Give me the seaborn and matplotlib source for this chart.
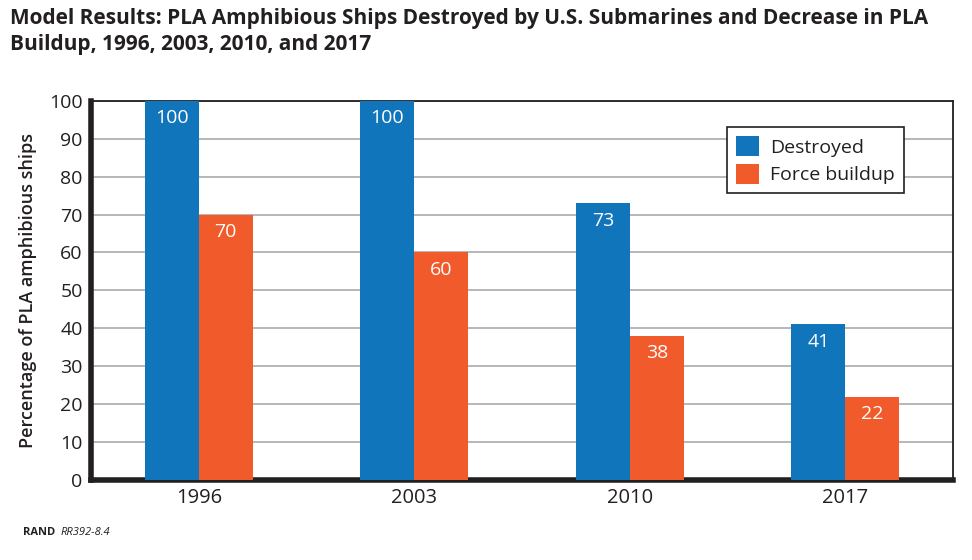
import matplotlib
matplotlib.use("Agg")
import matplotlib.pyplot as plt
import seaborn as sns
import pandas as pd

years = ["1996", "2003", "2010", "2017"]
destroyed = [100, 100, 73, 41]
buildup = [70, 60, 38, 22]
series = ["Destroyed", "Force buildup"]
colors = ["#1175bb", "#f15a2b"]

df = pd.DataFrame({
    "year": years * 2,
    "value": destroyed + buildup,
    "series": [series[0]] * 4 + [series[1]] * 4,
})

sns.set_style("white")
plt.rcParams["font.family"] = ["Open Sans", "DejaVu Sans"]

fig = plt.figure(figsize=(9.72, 5.6), dpi=100)
ax = fig.add_axes([0.0936, 0.143, 0.887, 0.677])

sns.barplot(data=df, x="year", y="value", hue="series", palette=colors,
            width=0.5, saturation=1, linewidth=0, ax=ax, zorder=3)

for c in ax.containers:
    labels = [f"{v:.0f}" for v in c.datavalues]
    ax.bar_label(c, labels=labels, label_type="edge", padding=-19,
                 color="white", fontsize=14)

ax.set_xlim(-0.5, 3.5)
ax.set_ylim(0, 100)
ax.set_yticks(range(0, 101, 10))
ax.yaxis.grid(True, color="#aaaaaa", linewidth=1.2, zorder=0)
ax.set_axisbelow(True)
ax.tick_params(axis="y", labelsize=14, length=0, colors="#231f20", pad=6)
ax.tick_params(axis="x", labelsize=14.5, length=0, colors="#231f20", pad=6)
ax.set_xlabel("")
ax.set_ylabel("Percentage of PLA amphibious ships", fontsize=13,
              fontweight="semibold", color="#231f20", labelpad=9)

for side in ["left", "bottom"]:
    ax.spines[side].set_linewidth(4)
    ax.spines[side].set_color("#231f20")
for side in ["top", "right"]:
    ax.spines[side].set_linewidth(1.3)
    ax.spines[side].set_color("#231f20")
    ax.spines[side].set_visible(True)

leg = ax.legend(loc="upper right", bbox_to_anchor=(0.943, 0.931), fontsize=14,
                frameon=True, fancybox=False, edgecolor="#231f20",
                handlelength=1.2, handleheight=1.2, borderpad=0.48,
                labelspacing=0.35, handletextpad=0.55, borderaxespad=0)
leg.get_frame().set_linewidth(1.2)
leg.get_frame().set_alpha(1)
for t in leg.get_texts():
    t.set_color("#231f20")

fig.text(0.010, 0.985, "Model Results: PLA Amphibious Ships Destroyed by U.S. Submarines and Decrease in PLA\nBuildup, 1996, 2003, 2010, and 2017",
         fontsize=15, fontweight="bold", color="#231f20", va="top", ha="left", linespacing=1.3)
fig.text(0.024, 0.045, "RAND", fontsize=8, fontweight="bold", color="#231f20")
fig.text(0.062, 0.045, "RR392-8.4", fontsize=8, style="italic", color="#231f20")

fig.savefig("out.png", dpi=100)
